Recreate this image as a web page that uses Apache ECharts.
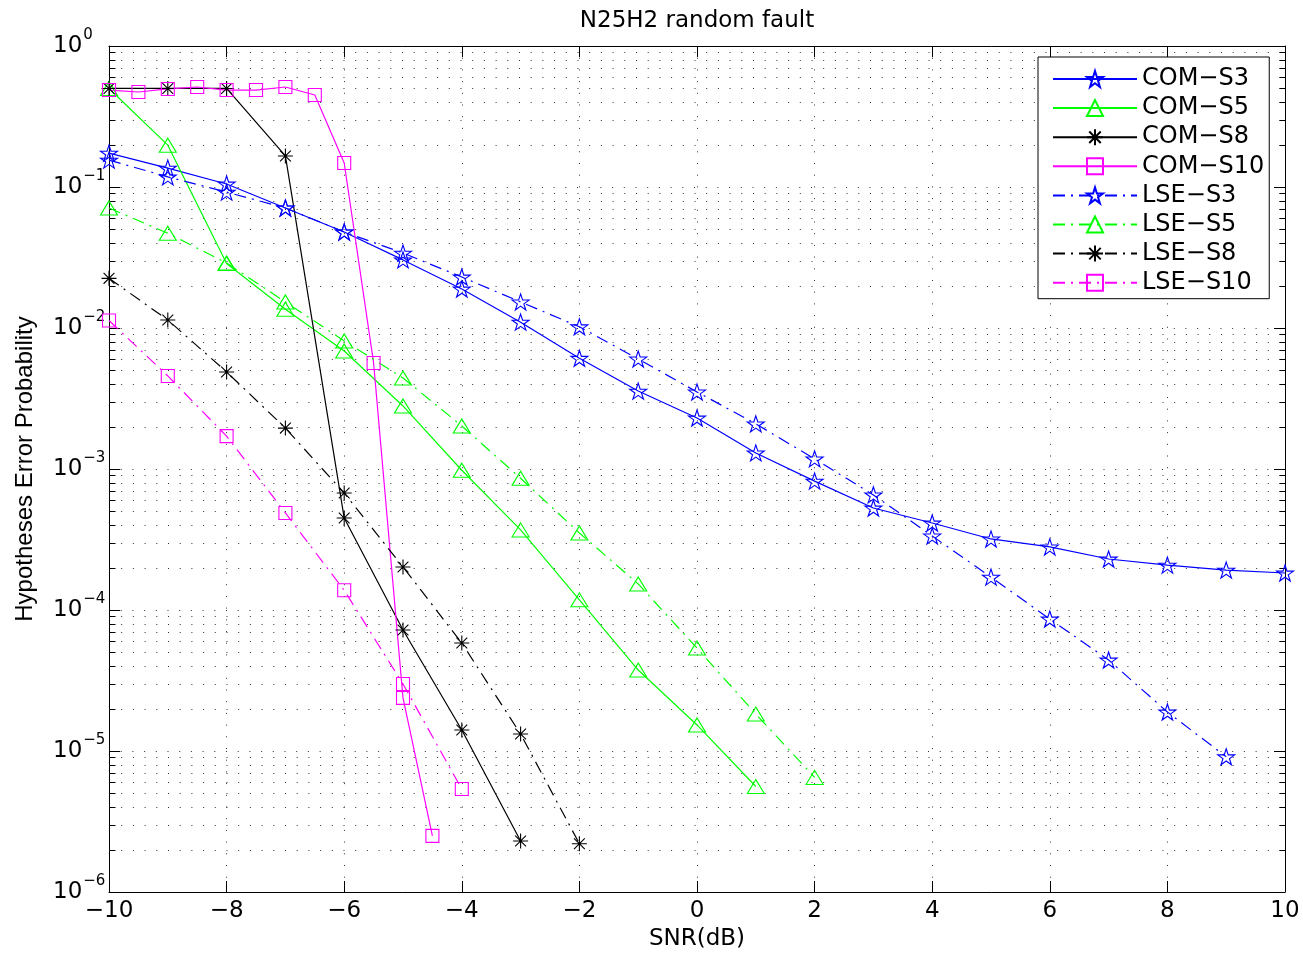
<!DOCTYPE html>
<html><head><meta charset="utf-8">
<script src="https://cdn.jsdelivr.net/npm/echarts@6/dist/echarts.min.js"></script>
<style>html,body{margin:0;padding:0;background:#fff}#c{width:1303px;height:957px}</style>
</head><body><div id="c"></div>
<script>
// ---------------- data ----------------
const titleText = 'N25H2 random fault';
const xName = 'SNR(dB)';
const yName = 'Hypotheses Error Probability';
const xTicks = [-10, -8, -6, -4, -2, 0, 2, 4, 6, 8, 10];
const yDecades = [1e-6, 1e-5, 1e-4, 1e-3, 1e-2, 1e-1, 1];
const minorMult = [2, 3, 4, 5, 6, 7, 8, 9];

const snrComS3 = [-10,-9,-8,-7,-6,-5,-4,-3,-2,-1,0,1,2,3,4,5,6,7,8,9,10];
const comS3 = [0.174,0.136,0.105,0.071,0.048,0.0304,0.0189,0.011,0.0061,0.00357,0.0023,0.0013,0.00082,0.000529,0.000414,0.000319,0.00028,0.00023,0.000208,0.000192,0.000183];
const snrLseS3 = [-10,-9,-8,-7,-6,-5,-4,-3,-2,-1,0,1,2,3,4,5,6,7,8,9];
const lseS3 = [0.155,0.118,0.092,0.071,0.048,0.034,0.023,0.0153,0.0102,0.00603,0.00352,0.00209,0.00118,0.000655,0.000335,0.000171,0.0000863,0.0000442,0.0000189,0.0000091];

const snrComS5 = [-10,-9,-8,-7,-6,-5,-4,-3,-2,-1,0,1];
const comS5 = [0.50,0.198,0.0287,0.0136,0.00687,0.0028,0.00098,0.00037,0.000118,0.0000375,0.0000153,0.0000056];
const snrLseS5 = [-10,-9,-8,-7,-6,-5,-4,-3,-2,-1,0,1,2];
const lseS5 = [0.071,0.047,0.0289,0.0153,0.0081,0.00442,0.00202,0.00086,0.000352,0.000153,0.0000537,0.0000183,0.0000065];

const snrComS8 = [-10,-9,-8,-7,-6,-5,-4,-3];
const comS8 = [0.50,0.50,0.50,0.166,0.000449,0.0000721,0.0000141,0.0000023];
const snrLseS8 = [-10,-9,-8,-7,-6,-5,-4,-3,-2];
const lseS8 = [0.0225,0.0114,0.00488,0.00195,0.000676,0.000202,0.0000583,0.0000132,0.0000022];

const snrComS10 = [-10,-9.5,-9,-8.5,-8,-7.5,-7,-6.5,-6,-5.5,-5,-4.5];
const comS10 = [0.487,0.472,0.496,0.512,0.487,0.487,0.512,0.449,0.148,0.00565,0.0000238,0.0000025];
const snrLseS10 = [-10,-9,-8,-7,-6,-5,-4];
const lseS10 = [0.0113,0.00457,0.00171,0.000488,0.000138,0.0000299,0.00000537];

const seriesNames = ['COM\u2212S3','COM\u2212S5','COM\u2212S8','COM\u2212S10','LSE\u2212S3','LSE\u2212S5','LSE\u2212S8','LSE\u2212S10'];

// ---------------- styling ----------------
const FONT = 'DejaVu Sans';
const BLUE = '#0000ff', GREEN = '#00ff00', BLACK = '#000000', MAGENTA = '#ff00ff';
const DASHDOT = [12, 6, 2, 6];

function starPath() {
  const pts = [];
  for (let i = 0; i < 10; i++) {
    const r = i % 2 ? 0.382 : 1;
    const a = -Math.PI / 2 + i * Math.PI / 5;
    pts.push((r * Math.cos(a)).toFixed(3) + ',' + (r * Math.sin(a)).toFixed(3));
  }
  return 'path://M' + pts.join('L') + 'Z';
}
const SYM = {
  star: { symbol: starPath(), size: [17, 16] },
  tri: { symbol: 'path://M0,-1L1.15,0.9L-1.15,0.9Z', size: [17, 14] },
  ast: { symbol: 'path://M0,-1L0,1M-1,0L1,0M-0.72,-0.72L0.72,0.72M-0.72,0.72L0.72,-0.72', size: [15, 15] },
  sq: { symbol: 'path://M0,0L1,0L1,1L0,1Z', size: [13, 13] }
};

function zip(xs, ys) { return xs.map((x, i) => [x, ys[i]]); }

function mkSeries(name, xs, ys, color, sym, dashed) {
  return {
    name, type: 'line', data: zip(xs, ys),
    symbol: sym.symbol, symbolSize: sym.size, symbolKeepAspect: false,
    lineStyle: { color, width: 1.2, type: dashed ? DASHDOT : 'solid' },
    itemStyle: { color: 'rgba(0,0,0,0)', borderColor: color, borderWidth: 1.1 },
    emphasis: { disabled: true }, z: 3
  };
}

const minorVals = [];
yDecades.slice(0, -1).forEach(d => minorMult.forEach(m => minorVals.push(d * m)));

const xMin = xTicks[0], xMax = xTicks[xTicks.length - 1];

const gridSeries = {
  type: 'custom', silent: true, z: 1,
  data: minorVals.map(v => [0, v]),
  encode: { x: 0, y: 1 },
  renderItem(params, api) {
    const v = api.value(1);
    const a = api.coord([xMin, v]), b = api.coord([xMax, v]);
    const y = Math.round(a[1]) + 0.5;
    const x1 = Math.round(a[0]) + 0.5, x2 = Math.round(b[0]) + 0.5;
    return { type: 'group', children: [
      { type: 'line', shape: { x1: x1, y1: y, x2: x2, y2: y }, style: { stroke: '#333', lineWidth: 1, lineDash: [1, 10.7] } },
      { type: 'line', shape: { x1: x1, y1: y, x2: x1 + 6, y2: y }, style: { stroke: '#000', lineWidth: 1 } },
      { type: 'line', shape: { x1: x2 - 6, y1: y, x2: x2, y2: y }, style: { stroke: '#000', lineWidth: 1 } }
    ] };
  }
};

function supLabel(v) {
  const e = Math.round(Math.log10(v));
  const s = e < 0 ? '\u2212' + (-e) : String(e);
  return '{b|10}{s|' + s + '}';
}

const axisLineBlack = { show: true, onZero: false, lineStyle: { color: '#000', width: 1 } };

const option = {
  animation: false,
  backgroundColor: '#fff',
  grid: { left: 109, top: 46, right: 18, bottom: 65 },
  legend: {
    orient: 'vertical', left: 1038, top: 57,
    padding: [10, 5, 4, 14], itemWidth: 84, itemHeight: 20, itemGap: 5.1,
    borderColor: '#000', borderWidth: 1, backgroundColor: '#fff',
    textStyle: { fontFamily: FONT, fontSize: 24, color: '#000' },
    data: seriesNames, selectedMode: false
  },
  xAxis: [
    {
      type: 'value', min: xMin, max: xMax, interval: 2, position: 'bottom',
      name: xName, nameLocation: 'middle', nameGap: 36,
      nameTextStyle: { fontFamily: FONT, fontSize: 23, color: '#000' },
      axisLine: axisLineBlack,
      axisTick: { inside: true, length: 11, lineStyle: { color: '#000' } },
      axisLabel: { margin: 8, fontFamily: FONT, fontSize: 23, color: '#000',
        formatter: v => String(v).replace('-', '\u2212') },
      splitLine: { show: true, lineStyle: { color: '#333', width: 1, type: [1, 10.7] } }
    },
    {
      type: 'value', min: xMin, max: xMax, interval: 2, position: 'top',
      name: titleText, nameLocation: 'middle', nameGap: 13,
      nameTextStyle: { fontFamily: FONT, fontSize: 23, color: '#000' },
      axisLine: axisLineBlack,
      axisTick: { inside: true, length: 11, lineStyle: { color: '#000' } },
      axisLabel: { show: false }, splitLine: { show: false }
    }
  ],
  yAxis: [
    {
      type: 'log', logBase: 10, min: yDecades[0], max: yDecades[yDecades.length - 1], position: 'left',
      name: yName, nameLocation: 'middle', nameGap: 72,
      nameTextStyle: { fontFamily: 'Liberation Sans', fontSize: 24, color: '#000' },
      axisLine: axisLineBlack,
      axisTick: { inside: true, length: 11, lineStyle: { color: '#000' } },
      axisLabel: {
        align: 'left', margin: 56, formatter: supLabel,
        rich: {
          b: { fontFamily: FONT, fontSize: 23, color: '#000', padding: [7, 0, 7, 0], verticalAlign: 'middle' },
          s: { fontFamily: FONT, fontSize: 15, color: '#000', verticalAlign: 'top', padding: [0, 0, 0, 1] }
        }
      },
      splitLine: { show: true, lineStyle: { color: '#333', width: 1, type: [1, 10.7] } }
    },
    {
      type: 'log', logBase: 10, min: yDecades[0], max: yDecades[yDecades.length - 1], position: 'right',
      axisLine: axisLineBlack,
      axisTick: { inside: true, length: 11, lineStyle: { color: '#000' } },
      axisLabel: { show: false }, splitLine: { show: false }
    }
  ],
  series: [
    gridSeries,
    mkSeries(seriesNames[0], snrComS3, comS3, BLUE, SYM.star, false),
    mkSeries(seriesNames[1], snrComS5, comS5, GREEN, SYM.tri, false),
    mkSeries(seriesNames[2], snrComS8, comS8, BLACK, SYM.ast, false),
    mkSeries(seriesNames[3], snrComS10, comS10, MAGENTA, SYM.sq, false),
    mkSeries(seriesNames[4], snrLseS3, lseS3, BLUE, SYM.star, true),
    mkSeries(seriesNames[5], snrLseS5, lseS5, GREEN, SYM.tri, true),
    mkSeries(seriesNames[6], snrLseS8, lseS8, BLACK, SYM.ast, true),
    mkSeries(seriesNames[7], snrLseS10, lseS10, MAGENTA, SYM.sq, true)
  ]
};

const chart = echarts.init(document.getElementById('c'), null, { renderer: 'canvas' });
chart.setOption(option);
</script>
</body></html>
